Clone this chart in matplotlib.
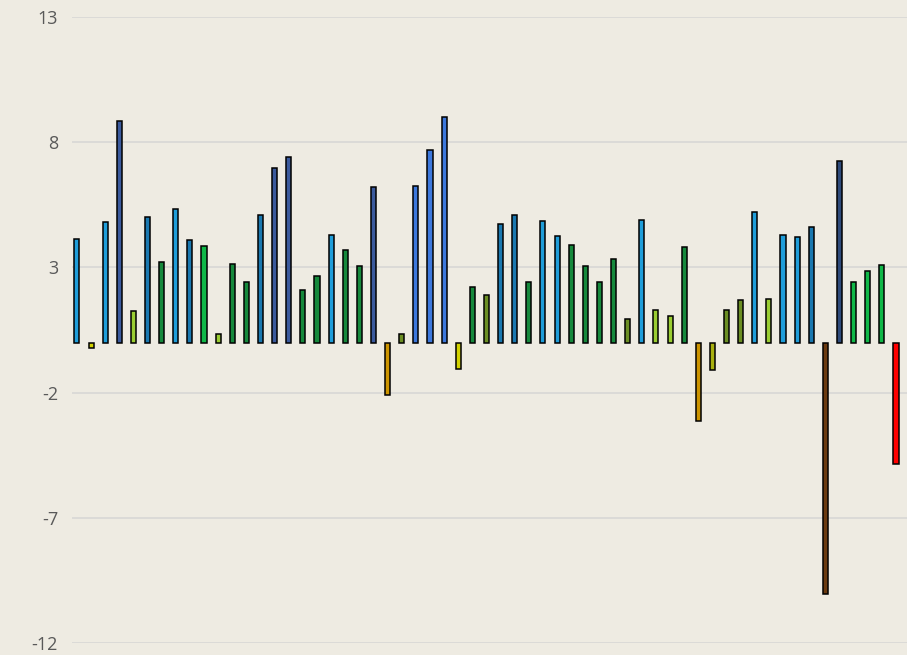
import matplotlib
matplotlib.use("Agg")
import matplotlib.pyplot as plt

plt.rcParams["axes.unicode_minus"] = False

# values, left to right
values = [4.15, -0.2, 4.8, 8.85, 1.25, 5.0, 3.2, 5.35, 4.1, 3.85,
          0.35, 3.15, 2.4, 5.1, 6.95, 7.4, 2.1, 2.65, 4.3, 3.7,
          3.05, 6.2, -2.1, 0.35, 6.25, 7.7, 9.0, -1.05, 2.2, 1.9,
          4.75, 5.1, 2.4, 4.85, 4.25, 3.9, 3.05, 2.4, 3.35, 0.95,
          4.9, 1.3, 1.05, 3.8, -3.15, -1.1, 1.3, 1.7, 5.2, 1.75,
          4.3, 4.2, 4.6, -10.05, 7.25, 2.4, 2.85, 3.1, -4.85]

LBLUE, TEAL, SLATE, RBLUE, NAVY = "#1f9dd9", "#1a78b0", "#3b5a9d", "#3d78dc", "#2e4a7a"
DGREEN, BGREEN, OLIVE, YGREEN = "#16893c", "#10b848", "#6b8e23", "#9acd32"
YELLOW, ORANGE, BROWN, RED = "#d2d200", "#cc9400", "#6b3a10", "#ff0000"

colors = [LBLUE, YELLOW, LBLUE, SLATE, YGREEN, TEAL, DGREEN, LBLUE, TEAL, BGREEN,
          YGREEN, DGREEN, DGREEN, TEAL, SLATE, SLATE, DGREEN, DGREEN, LBLUE, DGREEN,
          DGREEN, SLATE, ORANGE, OLIVE, RBLUE, RBLUE, RBLUE, YELLOW, DGREEN, OLIVE,
          TEAL, TEAL, DGREEN, LBLUE, LBLUE, DGREEN, DGREEN, DGREEN, DGREEN, OLIVE,
          LBLUE, YGREEN, YGREEN, DGREEN, ORANGE, "#a8b010", OLIVE, OLIVE, LBLUE, YGREEN,
          LBLUE, LBLUE, TEAL, BROWN, NAVY, BGREEN, BGREEN, BGREEN, RED]

yticks = [13, 8, 3, -2, -7, -12]

BG = "#eeebe2"
fig = plt.figure(figsize=(9.07, 6.55), dpi=100, facecolor=BG)
ax = fig.add_axes([72 / 907, 12 / 655, 835 / 907, 626 / 655], facecolor=BG)

x = range(len(values))
ax.bar(x, values, width=0.36, color=colors, edgecolor="black", linewidth=1.1, zorder=3)

ax.set_xlim(-0.35, len(values) - 0.22)
ax.set_ylim(-12, 13)
ax.set_yticks(yticks)
ax.set_xticks([])
ax.yaxis.grid(True, color="#d9d9d6", linewidth=1.3, zorder=0)
ax.tick_params(axis="y", length=0, pad=10, labelsize=13, labelcolor="#595959")
for lbl in ax.get_yticklabels():
    lbl.set_fontfamily(["Open Sans", "DejaVu Sans"])
for s in ax.spines.values():
    s.set_visible(False)

fig.savefig("out.png", dpi=100, facecolor=BG)
